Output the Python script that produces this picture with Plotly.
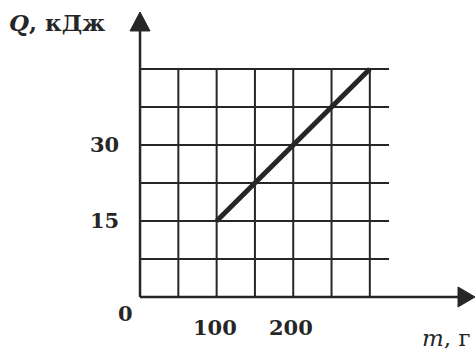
import plotly.graph_objects as go

# data
m_vals = [100, 300]          # g
q_vals = [15, 45]            # kJ
x_ticks = [100, 200]
x_tick_labels = ["100", "200"]
y_ticks = [15, 30]
y_tick_labels = ["15", "30"]
x_grid = [50, 100, 150, 200, 250, 300]
y_grid = [7.5, 15, 22.5, 30, 37.5, 45]
x_grid_end = 325
y_grid_end = 45

INK = "#262626"
FONT = "DejaVu Serif"

# pixel scale: 0.766 px per g, 5.067 px per kJ; origin at (140, 297)
X_RANGE = [-182.8, 438.6]
Y_RANGE = [-10.66, 58.6]

fig = go.Figure()
fig.add_trace(go.Scatter(x=m_vals, y=q_vals, mode="lines",
                         line=dict(color=INK, width=5), hoverinfo="skip",
                         showlegend=False))

shapes = []
for gx in x_grid:
    shapes.append(dict(type="line", x0=gx, x1=gx, y0=0, y1=y_grid_end,
                       xref="x", yref="y", line=dict(color=INK, width=2), layer="below"))
for gy in y_grid:
    shapes.append(dict(type="line", x0=0, x1=x_grid_end, y0=gy, y1=gy,
                       xref="x", yref="y", line=dict(color=INK, width=2), layer="below"))
# axes
shapes.append(dict(type="line", x0=0, x1=0, y0=0, y1=53, xref="x", yref="y",
                   line=dict(color=INK, width=2.5)))
shapes.append(dict(type="line", x0=0, x1=420, y0=0, y1=0, xref="x", yref="y",
                   line=dict(color=INK, width=2.5)))
# arrow heads (pixel-sized, anchored at origin)
shapes.append(dict(type="path", xref="x", yref="y", xsizemode="pixel", ysizemode="pixel",
                   xanchor=0, yanchor=0, path="M 0 285 L -10 266 L 10 266 Z",
                   fillcolor=INK, line=dict(color=INK, width=1)))
shapes.append(dict(type="path", xref="x", yref="y", xsizemode="pixel", ysizemode="pixel",
                   xanchor=0, yanchor=0, path="M 335 0 L 318 -10 L 318 10 Z",
                   fillcolor=INK, line=dict(color=INK, width=1)))

tick_font = dict(family=FONT, size=21, color=INK, weight="bold")
annotations = []
for v, t in zip(x_ticks, x_tick_labels):
    annotations.append(dict(x=v, y=0, xref="x", yref="y", text=t, showarrow=False,
                            xanchor="center", yanchor="middle", xshift=-2, yshift=-31,
                            font=tick_font))
for v, t in zip(y_ticks, y_tick_labels):
    annotations.append(dict(x=0, y=v, xref="x", yref="y", text=t, showarrow=False,
                            xanchor="right", yanchor="middle", xshift=-19, yshift=0,
                            font=tick_font))
annotations += [
    dict(x=0, y=0, xref="x", yref="y", text="0", showarrow=False,
         xanchor="center", yanchor="middle", xshift=-15, yshift=-17, font=tick_font),
    dict(x=0, y=Y_RANGE[1], xref="x", yref="y", text="<i>Q</i>, кДж", showarrow=False,
         xanchor="left", yanchor="middle", xshift=-133, yshift=-22,
         font=dict(family=FONT, size=23, color=INK, weight="bold")),
    dict(x=X_RANGE[1], y=0, xref="x", yref="y", text="<i>m</i>, г", showarrow=False,
         xanchor="right", yanchor="middle", xshift=-3, yshift=-41,
         font=dict(family=FONT, size=23, color=INK)),
]

fig.update_layout(
    width=476, height=351,
    margin=dict(l=0, r=0, t=0, b=0),
    paper_bgcolor="white", plot_bgcolor="white",
    shapes=shapes, annotations=annotations,
    xaxis=dict(range=X_RANGE, visible=False, fixedrange=True),
    yaxis=dict(range=Y_RANGE, visible=False, fixedrange=True),
    showlegend=False,
)

fig.write_html("out.html", config={"displayModeBar": False},
               post_script="document.body.style.margin='0';"
                           "document.body.style.overflow='hidden';")
